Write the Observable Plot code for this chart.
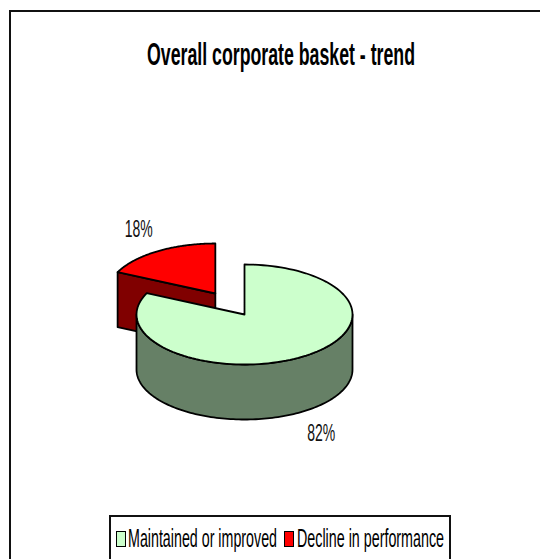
<!DOCTYPE html>
<html><head><meta charset="utf-8">
<script src="https://cdn.jsdelivr.net/npm/d3@7"></script>
<script src="https://cdn.jsdelivr.net/npm/@observablehq/plot@0.6"></script>
<style>
html,body{margin:0;padding:0;background:#fff;width:540px;height:559px;overflow:hidden}
#frame{position:absolute;left:9px;top:10px;width:560px;height:580px;border:2px solid #111;box-sizing:border-box}
#title{position:absolute;left:147px;top:37px;font:bold 31px "Liberation Sans",Arial,sans-serif;color:#000;white-space:nowrap;transform-origin:0 0}
#chart{position:absolute;left:0;top:0}
#legend{position:absolute;left:109px;top:515px;width:342px;height:60px;border:2px solid #111;box-sizing:border-box}
.sw{position:absolute;width:10px;height:16px;border:1.5px solid #000;box-sizing:border-box;top:531px}
.lt{position:absolute;top:524px;font:25px "Liberation Sans",Arial,sans-serif;color:#000;white-space:nowrap;transform-origin:0 0}
</style></head><body>
<div id="frame"></div>
<div id="legend"></div>
<div id="chart"></div>
<div id="title">Overall corporate basket - trend</div>
<script>
const categories = ["Maintained or improved", "Decline in performance"];
const shares = [82, 18];
const topColors = ["#ccffcc", "#ff0000"];
const sideColors = ["#668066", "#800000"];
const depth = 1.1;
const redOffset = [-0.27, -0.42];

const total = d3.sum(shares);
const toRad = s => (s / total) * 2 * Math.PI;
const pt = (a, o = [0, 0], dz = 0) => ({x: Math.sin(a) + o[0], y: -Math.cos(a) + o[1] + dz});
const arc = (a0, a1, o, dz) => d3.range(0, 121).map(i => pt(a0 + (a1 - a0) * i / 120, o, dz));

const greenEnd = toRad(shares[0]);
const greenTop = [{x:0,y:0}, ...arc(0, greenEnd), {x:0,y:0}];
const redTop = [{x:redOffset[0],y:redOffset[1]}, ...arc(greenEnd, 2*Math.PI, redOffset), {x:redOffset[0],y:redOffset[1]}];
const redEdge = pt(greenEnd, redOffset);
const redFace = [{x:redOffset[0],y:redOffset[1]}, redEdge, {x:redEdge.x,y:redEdge.y+depth}, {x:redOffset[0],y:redOffset[1]+depth}, {x:redOffset[0],y:redOffset[1]}];
const wallTop = arc(Math.PI/2, 3*Math.PI/2);
const greenWall = [...wallTop, ...wallTop.slice().reverse().map(p => ({x:p.x,y:p.y+depth})), wallTop[0]];

const poly = (d, fill) => Plot.line(d, {x:"x", y:"y", fill, stroke:"#000", strokeWidth:1.8, curve:"linear", strokeLinejoin:"round"});
const labels = [
  {x:0.71, y:2.38, t:`${shares[0]}%`},
  {x:-0.98, y:-1.7, t:`${shares[1]}%`}
];
const plot = Plot.plot({
  width:540, height:559, margin:0,
  x:{domain:[-1,1], range:[136,352], axis:null},
  y:{domain:[-1,1], range:[264,364], axis:null},
  marks:[
    poly(redFace, sideColors[1]),
    poly(redTop, topColors[1]),
    poly(greenWall, sideColors[0]),
    poly(greenTop, topColors[0]),
    Plot.text(labels, {x:"x", y:"y", text:"t", fontSize:24, fontFamily:"Liberation Sans, Arial, sans-serif", fill:"#111"})
  ]
});
plot.style.background = "transparent";
plot.querySelectorAll("text").forEach(t => {
  t.setAttribute("textLength", 28);
  t.setAttribute("lengthAdjust", "spacingAndGlyphs");
});
document.getElementById("chart").append(plot);

const squeeze = (el, w) => { el.style.transform = `scaleX(${w / el.getBoundingClientRect().width})`; };
squeeze(document.getElementById("title"), 268);
const textLeft = [128, 297], textWidth = [149, 147], swLeft = [116, 284];
categories.forEach((c, i) => {
  const sw = document.createElement("div");
  sw.className = "sw"; sw.style.background = topColors[i]; sw.style.left = swLeft[i] + "px";
  const t = document.createElement("div");
  t.className = "lt"; t.textContent = c; t.style.left = textLeft[i] + "px";
  document.body.append(sw, t);
  squeeze(t, textWidth[i]);
});
</script></body></html>
